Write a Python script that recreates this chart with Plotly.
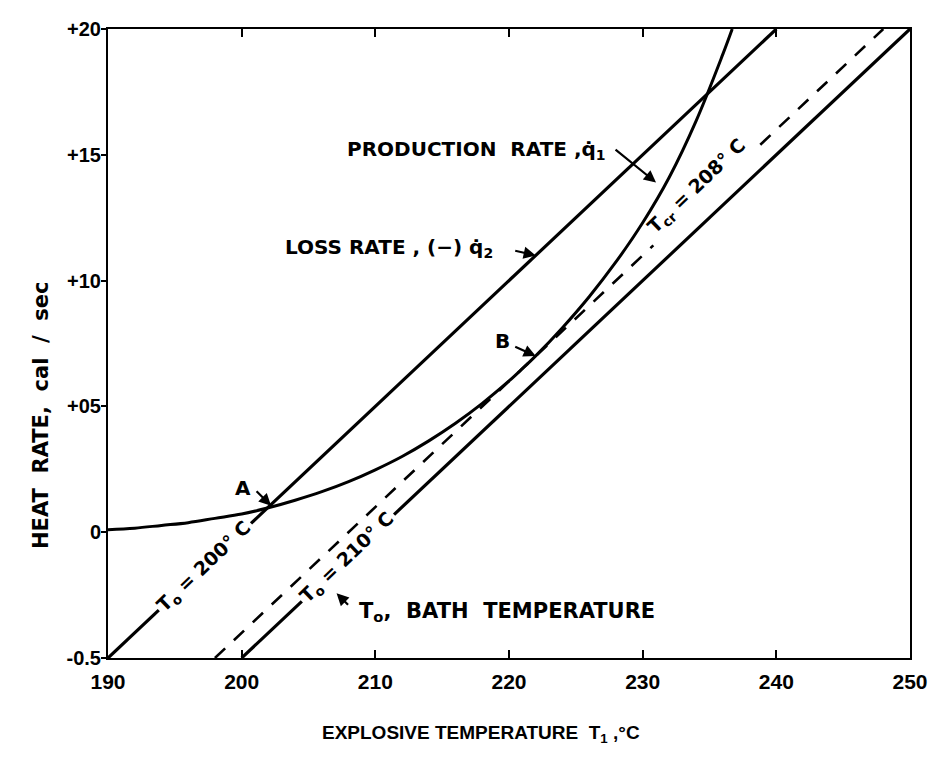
import plotly.graph_objects as go

# explosive temperature T1 (deg C) and heat production rate q1 (cal/sec)
PROD_T = [190, 192, 194, 196, 198, 200, 202, 204, 206, 208, 210, 212, 214, 216,
          218, 220, 221, 222, 224, 226, 228, 230, 232, 234, 236, 236.7]
PROD_Q = [0.0010, 0.0016, 0.0027, 0.0038, 0.0055, 0.0072, 0.0097, 0.0127, 0.0161, 0.0201,
          0.0248, 0.0301, 0.0363, 0.0433, 0.0512, 0.0601, 0.0650, 0.0701, 0.0813, 0.0936,
          0.1074, 0.1230, 0.1412, 0.1635, 0.1900, 0.2000]

# loss-rate lines (-q2); None = gap where the bath temperature is lettered along the line
LOSS_200_T = [190, 193.8, None, 200.7, 240]
LOSS_200_Q = [-0.050, -0.031, None, 0.0035, 0.200]
LOSS_210_T = [200, 204.5, None, 211.4, 250]
LOSS_210_Q = [-0.050, -0.0275, None, 0.007, 0.200]
# critical bath temperature (dashed)
CRIT_T = [198, 230.8, None, 238.8, 248]
CRIT_Q = [-0.050, 0.114, None, 0.154, 0.200]

X_TICKS = [190, 200, 210, 220, 230, 240, 250]
Y_TICKS = [-0.05, 0, 0.05, 0.10, 0.15, 0.20]
Y_TICKTEXT = ["-0.5", "0", "+05", "+10", "+15", "+20"]

POINT_A = (202.2, 0.0105)
POINT_B = (222.0, 0.0700)

INK = "black"
FONT = "DejaVu Sans"
TICK_FONT = "Liberation Sans"

fig = go.Figure()
fig.add_trace(go.Scatter(x=PROD_T, y=PROD_Q, mode="lines", line_shape="spline",
                         line=dict(color=INK, width=3)))
fig.add_trace(go.Scatter(x=LOSS_200_T, y=LOSS_200_Q, mode="lines", connectgaps=False,
                         line=dict(color=INK, width=3.2)))
fig.add_trace(go.Scatter(x=LOSS_210_T, y=LOSS_210_Q, mode="lines", connectgaps=False,
                         line=dict(color=INK, width=3.2)))
fig.add_trace(go.Scatter(x=CRIT_T, y=CRIT_Q, mode="lines", connectgaps=False,
                         line=dict(color=INK, width=2.6, dash="14px,12px")))

lbl = dict(family=FONT, size=19, color=INK, weight="bold")
big = dict(family=FONT, size=20, color=INK, weight="bold")
ann = []
# lettering along the lines
ann.append(dict(x=197.25, y=-0.01375, text="T<sub>o</sub> = 200° C", textangle=-43.8,
                showarrow=False, font=lbl))
ann.append(dict(x=207.95, y=-0.01025, text="T<sub>o</sub> = 210° C", textangle=-43.8,
                showarrow=False, font=lbl))
ann.append(dict(x=234.6, y=0.133, text="T<sub>cr</sub> = 208° C", textangle=-43.8,
                showarrow=False, font=lbl, xshift=-7, yshift=11))
# free labels
ann.append(dict(x=207.7, y=0.152, text="PRODUCTION  RATE ,q̇<sub>1</sub>", xanchor="left",
                showarrow=False, font=big))
ann.append(dict(x=203.1, y=0.113, text="LOSS RATE , (−) q̇<sub>2</sub>", xanchor="left",
                showarrow=False, font=big))
ann.append(dict(x=208.6, y=-0.0318, text="T<sub>o</sub>,  BATH  TEMPERATURE", xanchor="left",
                showarrow=False, font=dict(family=FONT, size=21, color=INK, weight="bold")))
ann.append(dict(x=200.1, y=0.0176, text="A", showarrow=False, font=big))
ann.append(dict(x=219.5, y=0.076, text="B", showarrow=False, font=big))
# arrows
arr = dict(text="", showarrow=True, arrowhead=2, arrowsize=1.1, arrowwidth=2.2,
           arrowcolor=INK)
ann.append(dict(x=POINT_A[0], y=POINT_A[1], ax=-16, ay=-16, **arr))
ann.append(dict(x=POINT_B[0], y=POINT_B[1], ax=-22, ay=-10, **arr))
ann.append(dict(x=231.0, y=0.139, ax=-42, ay=-34, **arr))
ann.append(dict(x=222.0, y=0.110, ax=-22, ay=-5, **arr))
ann.append(dict(x=207.1, y=-0.0243, ax=13, ay=13, **arr))
# axis titles
ann.append(dict(xref="paper", yref="paper", x=0.465, y=-0.121, xanchor="center",
                yanchor="middle", text="EXPLOSIVE TEMPERATURE  T<sub>1</sub> ,°C",
                showarrow=False,
                font=dict(family=TICK_FONT, size=19, color=INK, weight="bold")))
ann.append(dict(xref="paper", yref="paper", x=-0.0838, y=0.386, xanchor="center",
                yanchor="middle", textangle=-90, text="HEAT  RATE,  cal  /  sec",
                showarrow=False, font=dict(family=FONT, size=21, color=INK, weight="bold")))

# page body keeps an 8px margin, so the figure is sized to sit inside the 946x761 window
fig.update_layout(
    width=930, height=745,
    margin=dict(l=100, r=19, t=10, b=95),
    paper_bgcolor="white", plot_bgcolor="white",
    showlegend=False,
    font=dict(family=FONT, color=INK),
    annotations=ann,
)
fig.update_xaxes(
    range=[190, 250], tickvals=X_TICKS, ticks="inside", ticklen=8, tickwidth=2,
    tickcolor=INK, showline=True, linewidth=2, linecolor=INK, mirror="ticks",
    showgrid=False, zeroline=False, ticklabelstandoff=4, ticklabeloverflow="allow",
    tickfont=dict(family=TICK_FONT, size=21, weight="bold"),
)
fig.update_yaxes(
    range=[-0.05, 0.20], tickvals=Y_TICKS, ticktext=Y_TICKTEXT, ticks="outside",
    ticklen=5, tickwidth=2, tickcolor=INK, showline=True, linewidth=2, linecolor=INK,
    mirror=True, showgrid=False, zeroline=False, ticklabelstandoff=-4,
    ticklabeloverflow="allow",
    tickfont=dict(family=TICK_FONT, size=20, weight="bold"),
)

fig.write_html("out.html")
